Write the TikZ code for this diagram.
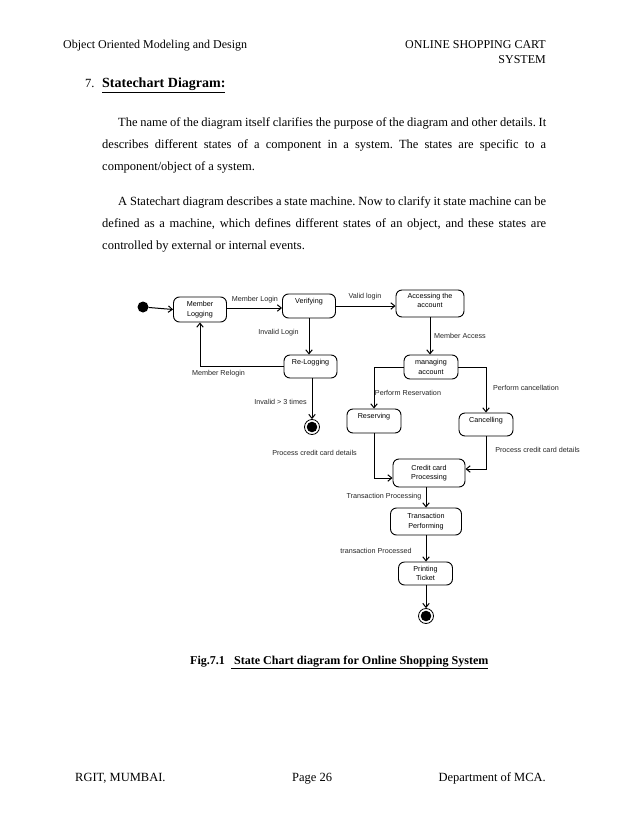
\documentclass[tikz,border=0pt]{standalone}
\usepackage{fontspec}
\setmainfont{Liberation Serif}
\setsansfont{Liberation Sans}
\usetikzlibrary{arrows.meta}
\frenchspacing
\begin{document}
\begin{tikzpicture}[x=1pt,y=-1pt,
 st/.style={draw, rounded corners=6pt, line width=0.9pt, inner sep=0pt, align=center, font=\sffamily\fontsize{7.2}{9.5}\selectfont},
 lbl/.style={font=\sffamily\fontsize{7.2}{9}\selectfont, inner sep=0pt, text=black!85},
 arr/.style={line width=1pt, -{Straight Barb[length=4pt,width=6.5pt]}},
 final/.style={circle, draw, line width=0.8pt, minimum size=15pt, inner sep=0pt, path picture={\fill (path picture bounding box.center) circle (5.3pt);}},
 body/.style={font=\fontsize{12.5}{15}\selectfont, inner sep=0pt},
 hdr/.style={font=\fontsize{12}{15}\selectfont, inner sep=0pt}]
\path[use as bounding box, fill=white] (0,0) rectangle (638,826);

% page text
\node[hdr, anchor=base west] (hl) at (63,49) {Object Oriented Modeling and Design};
\node[hdr, anchor=base east] (hr1) at (546,49) {ONLINE SHOPPING CART};
\node[hdr, anchor=base east] (hr2) at (546,64) {SYSTEM};
\node[body, anchor=base west] (hnum) at (85,88) {7.};
\node[font=\bfseries\fontsize{14}{16}\selectfont, inner sep=0pt, anchor=base west] (head) at (102,88) {\underline{Statechart Diagram:}};
\node[body, anchor=base west] (para1) at (102,127) {\parbox[t]{444pt}{\fontsize{12.5}{22}\selectfont\hspace*{16pt}The name of the diagram itself clarifies the purpose of the diagram and other details. It\linebreak describes different states of a component in a system. The states are specific to a\linebreak component/object of a system.}};
\node[body, anchor=base west] (para2) at (102,206) {\parbox[t]{444pt}{\fontsize{12.5}{21.6}\selectfont\hspace*{16pt}A Statechart diagram describes a state machine. Now to clarify it state machine can be\linebreak defined as a machine, which defines different states of an object, and these states are\linebreak controlled by external or internal events.}};
\node[font=\bfseries\fontsize{12.05}{15}\selectfont, inner sep=0pt, anchor=base west] (cap) at (190,664) {Fig.7.1\ \ \underline{\ State Chart diagram for Online Shopping System}};
\node[body, anchor=base west] (f1) at (75,781) {RGIT, MUMBAI.};
\node[body, anchor=base west] (f2) at (292,781) {Page 26};
\node[body, anchor=base east] (f3) at (546,781) {Department of MCA.};

% states
\node[circle, fill, minimum size=11pt, inner sep=0pt] (init) at (143,307) {};
\node[st, minimum width=53pt, minimum height=25pt] (ml) at (200,309.5) {Member\\Logging};
\node[st, minimum width=53pt, minimum height=24pt] (ver) at (309,306) {Verifying\\\mbox{}};
\node[st, minimum width=53pt, minimum height=23pt] (rel) at (310.5,366.5) {Re-Logging\\\mbox{}};
\node[final] (fin1) at (312,427) {};
\node[st, minimum width=68pt, minimum height=27pt] (acc) at (430,303.5) {Accessing the\\account\\[-3pt]\mbox{}};
\node[st, minimum width=54pt, minimum height=24pt] (man) at (431,367) {managing\\account};
\node[st, minimum width=54pt, minimum height=24pt] (res) at (374,421) {Reserving\\\mbox{}};
\node[st, minimum width=54pt, minimum height=23pt] (can) at (486,424.5) {Cancelling\\\mbox{}};
\node[st, minimum width=72pt, minimum height=28pt] (cre) at (429,473) {Credit card\\Processing};
\node[st, minimum width=71pt, minimum height=27pt] (tra) at (426,521.5) {Transaction\\Performing};
\node[st, minimum width=54pt, minimum height=23pt] (pri) at (425.5,573.5) {Printing\\Ticket};
\node[final] (fin2) at (426,616) {};

% transitions
\draw[arr] (init) -- (ml.west);
\draw[arr] (ml.east |- 0,308) -- (ver.west |- 0,308);
\draw[arr] (ver.south) -- (ver.south |- rel.north);
\draw[arr] (rel.west) -| (ml.south);
\draw[arr] (rel.south -| fin1) -- (fin1.north);
\draw[arr] (ver.east) -- (acc.west |- ver.east);
\draw[arr] (acc.south) -- (acc.south |- man.north);
\draw[arr] (man.west) -| (res.north);
\draw[arr] (man.east) -| (can.north);
\draw[arr] (res.south) |- ([yshift=-5pt]cre.west);
\draw[arr] (can.south) |- ([yshift=4pt]cre.east);
\draw[arr] (cre.south -| tra) -- (tra.north);
\draw[arr] (tra.south) -- (tra.south |- pri.north);
\draw[arr] (pri.south -| fin2) -- (fin2.north);

% labels
\node[lbl] (l1) at (255,300) {Member Login};
\node[lbl] (l2) at (278.5,333) {Invalid Login};
\node[lbl] (l3) at (218.5,374) {Member Relogin};
\node[lbl] (l4) at (280.5,402) {Invalid > 3 times};
\node[lbl] (l5) at (365,297) {Valid login};
\node[lbl] (l6) at (460,336) {Member Access};
\node[lbl] (l7) at (408,393) {Perform Reservation};
\node[lbl] (l8) at (526,388) {Perform cancellation};
\node[lbl] (l9) at (314.5,453) {Process credit card details};
\node[lbl] (l10) at (537.5,450) {Process credit card details};
\node[lbl] (l11) at (384,497) {Transaction Processing};
\node[lbl] (l12) at (376,551) {transaction Processed};
\end{tikzpicture}
\end{document}
